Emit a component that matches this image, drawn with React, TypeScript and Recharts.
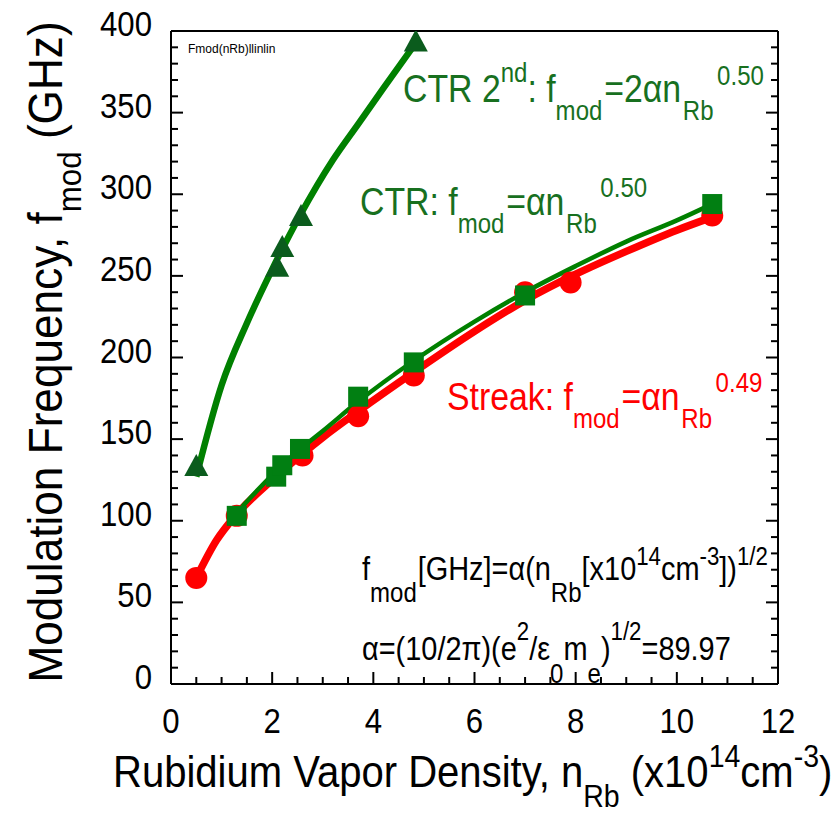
import React from "react";
import { ComposedChart, Line, Scatter, XAxis, YAxis } from "recharts";

// measured points (x10^14 cm^-3, GHz)
const streakN = [0.5, 1.3, 2.6, 3.7, 4.8, 7.0, 7.9, 10.7];
const streakF = [65, 103, 140, 164, 189, 240, 246, 287];

const ctrN = [1.3, 2.08, 2.2, 2.55, 3.7, 4.8, 7.0, 10.7];
const ctrF = [103, 127, 134, 144, 176, 197, 238, 294];

const ctr2N = [0.5, 2.1, 2.2, 2.57, 4.84];
const ctr2F = [133, 255, 267, 286, 393];

// fitted curves
const streakFitN = [0.5, 0.9, 1.3, 2.0, 2.6, 3.0, 3.7, 4.8, 6.0, 7.0, 8.0, 9.0, 10.0, 10.7];
const streakFitF = [65, 88, 104, 125, 141, 151, 167, 191, 216, 235, 251, 265, 278, 286];

const ctrFitN = [1.3, 2.0, 2.6, 3.0, 3.7, 4.8, 6.0, 7.0, 8.0, 9.0, 10.0, 10.7];
const ctrFitF = [105, 128, 145, 155, 173, 198, 222, 240, 256, 271, 284, 294];

const ctr2FitN = [0.5, 1.0, 1.5, 2.0, 2.55, 3.2, 3.7, 4.2, 4.8];
const ctr2FitF = [127, 183, 221, 254, 287, 321, 343, 365, 391];

const xTicks = Array.from({ length: 25 }, (_, i) => i * 0.5);
const yTicks = Array.from({ length: 41 }, (_, i) => i * 10);
const xLabels = [0, 2, 4, 6, 8, 10, 12];
const yLabels = [0, 50, 100, 150, 200, 250, 300, 350, 400];

const zip = (xs: number[], ys: number[]) => xs.map((x, i) => ({ x, y: ys[i] }));

const RED = "#ff0000";
const GREEN = "#008000";
const SQUARE = "#017f12";
const TRI = "#0b5c1d";
const GTEXT = "#18701f";
const FONT = "'Liberation Sans', Arial, sans-serif";
const SX = 0.89;

type Seg = [string, number, number?, number?];

function Rich({ x, y, segs, fill = "#000", rot = 0, anchor = "start", sx = SX }: any) {
  let cur = 0;
  return (
    <g transform={`translate(${x},${y}) rotate(${rot}) scale(${sx},1)`}>
      <text x={0} y={0} fill={fill} fontFamily={FONT} textAnchor={anchor} style={{ whiteSpace: "pre" }}>
        {(segs as Seg[]).map(([t, fs, off = 0, dx = 0], i) => {
          const dy = off - cur;
          cur = off;
          return (
            <tspan key={i} fontSize={fs} dy={dy} dx={dx}>
              {t}
            </tspan>
          );
        })}
      </text>
    </g>
  );
}

const isMajorX = (v: number) => xLabels.includes(v);
const isMajorY = (v: number) => yLabels.includes(v);

function BottomTick({ x, y, payload }: any) {
  const major = isMajorX(payload.value);
  return (
    <g>
      <line x1={x} x2={x} y1={y} y2={y - (major ? 12 : 7)} stroke="#000" strokeWidth={2} />
      {major && (
        <g transform={`translate(${x},${y + 49}) scale(${SX},1)`}>
          <text textAnchor="middle" fontFamily={FONT} fontSize={35} fill="#000">
            {payload.value}
          </text>
        </g>
      )}
    </g>
  );
}

function TopTick({ x, y, payload }: any) {
  const major = isMajorX(payload.value);
  return <line x1={x} x2={x} y1={y} y2={y + (major ? 12 : 7)} stroke="#000" strokeWidth={2} />;
}

function LeftTick({ x, y, payload }: any) {
  const major = isMajorY(payload.value);
  return (
    <g>
      <line x1={x} x2={x + (major ? 12 : 7)} y1={y} y2={y} stroke="#000" strokeWidth={2} />
      {major && (
        <g transform={`translate(${x - 19},${y + 5}) scale(${SX},1)`}>
          <text textAnchor="end" fontFamily={FONT} fontSize={35} fill="#000">
            {payload.value}
          </text>
        </g>
      )}
    </g>
  );
}

function RightTick({ x, y, payload }: any) {
  const major = isMajorY(payload.value);
  return <line x1={x} x2={x - (major ? 12 : 7)} y1={y} y2={y} stroke="#000" strokeWidth={2} />;
}

const circle = (p: any) => <circle cx={p.cx} cy={p.cy} r={11} fill={RED} />;
const square = (p: any) => <rect x={p.cx - 10} y={p.cy - 10} width={20} height={20} fill={SQUARE} />;
const triangle = (p: any) => (
  <polygon points={`${p.cx},${p.cy - 13} ${p.cx - 12},${p.cy + 9} ${p.cx + 12},${p.cy + 9}`} fill={TRI} />
);

const axisLine = { stroke: "#000", strokeWidth: 2 };

export default function App() {
  return (
    <div style={{ position: "fixed", left: 0, top: 0, width: 835, height: 814, background: "#fff" }}>
      <ComposedChart width={835} height={814} margin={{ top: 30, right: 56, bottom: 129, left: 170 }}>
        <XAxis
          xAxisId={0}
          type="number"
          dataKey="x"
          domain={[0, 12]}
          allowDataOverflow
          ticks={xTicks}
          interval={0}
          height={1}
          tickSize={0}
          tickMargin={0}
          tickLine={false}
          axisLine={axisLine}
          tick={(p: any) => <BottomTick {...p} />}
        />
        <XAxis
          xAxisId="top"
          orientation="top"
          type="number"
          domain={[0, 12]}
          allowDataOverflow
          ticks={xTicks}
          interval={0}
          height={1}
          tickSize={0}
          tickMargin={0}
          tickLine={false}
          axisLine={axisLine}
          tick={(p: any) => <TopTick {...p} />}
        />
        <YAxis
          yAxisId={0}
          type="number"
          dataKey="y"
          domain={[0, 400]}
          allowDataOverflow
          ticks={yTicks}
          interval={0}
          width={1}
          tickSize={0}
          tickMargin={0}
          tickLine={false}
          axisLine={axisLine}
          tick={(p: any) => <LeftTick {...p} />}
        />
        <YAxis
          yAxisId="right"
          orientation="right"
          type="number"
          domain={[0, 400]}
          allowDataOverflow
          ticks={yTicks}
          interval={0}
          width={1}
          tickSize={0}
          tickMargin={0}
          tickLine={false}
          axisLine={axisLine}
          tick={(p: any) => <RightTick {...p} />}
        />

        <Line
          data={zip(streakFitN, streakFitF)}
          dataKey="y"
          type="monotone"
          stroke={RED}
          strokeWidth={7.5}
          dot={false}
          isAnimationActive={false}
        />
        <Scatter data={zip(streakN, streakF)} dataKey="y" shape={circle} isAnimationActive={false} />
        <Line
          data={zip(ctrFitN, ctrFitF)}
          dataKey="y"
          type="monotone"
          stroke={GREEN}
          strokeWidth={4.5}
          dot={false}
          isAnimationActive={false}
        />
        <Scatter data={zip(ctrN, ctrF)} dataKey="y" shape={square} isAnimationActive={false} />
        <Line
          data={zip(ctr2FitN, ctr2FitF)}
          dataKey="y"
          type="monotone"
          stroke={GREEN}
          strokeWidth={6.5}
          dot={false}
          isAnimationActive={false}
        />
        <Scatter data={zip(ctr2N, ctr2F)} dataKey="y" shape={triangle} isAnimationActive={false} />
      </ComposedChart>

      <svg width={835} height={814} style={{ position: "absolute", left: 0, top: 0, pointerEvents: "none" }}>
        <Rich x={188} y={53} segs={[["Fmod(nRb)llinlin", 13.5]]} />
        <Rich
          x={403}
          y={102}
          fill={GTEXT}
          segs={[
            ["CTR 2", 38],
            ["nd", 27, -20],
            [": f", 38, 0],
            ["mod", 27, 18],
            ["=2αn", 38, 0, 2],
            ["Rb", 27, 18, 2],
            ["0.50", 27, -17, 4],
          ]}
        />
        <Rich
          x={360}
          y={215}
          fill={GTEXT}
          segs={[
            ["CTR: f", 38],
            ["mod", 27, 18],
            ["=αn", 38, 0, 2],
            ["Rb", 27, 18, 2],
            ["0.50", 27, -18, 4],
          ]}
        />
        <Rich
          x={447}
          y={410}
          fill={RED}
          segs={[
            ["Streak: f", 38],
            ["mod", 27, 18],
            ["=αn", 38, 0, 2],
            ["Rb", 27, 18, 2],
            ["0.49", 27, -18, 4],
          ]}
        />
        <Rich
          x={362}
          y={580}
          segs={[
            ["f", 32.5],
            ["mod", 27, 22],
            ["[GHz]=α(n", 32.5, 0, 1],
            ["Rb", 27, 22],
            ["[x10", 32.5, 0],
            ["14", 25, -15],
            ["cm", 32.5, 0],
            ["-3", 25, -15],
            ["])", 32.5, 0],
            ["1/2", 25, -15],
          ]}
        />
        <Rich
          x={362}
          y={660}
          segs={[
            ["α=(10/2π)(e", 32.5],
            ["2", 25, -20],
            ["/ε", 32.5, 0],
            ["0", 27, 23],
            ["m", 32.5, 0],
            ["e", 27, 23],
            [")", 32.5, 0],
            ["1/2", 25, -20],
            ["=89.97", 32.5, 0],
          ]}
        />
        <Rich
          x={113}
          y={787}
          segs={[
            ["Rubidium Vapor Density, n", 45],
            ["Rb", 32, 20],
            [" (x10", 45, 0],
            ["14", 32, -20],
            ["cm", 45, 0],
            ["-3", 32, -20],
            [")", 45, 0],
          ]}
        />
        <Rich
          x={62}
          y={352}
          rot={-90}
          anchor="middle"
          sx={0.92}
          segs={[
            ["Modulation Frequency, f", 48],
            ["mod", 34, 19],
            [" (GHz)", 48, 0],
          ]}
        />
      </svg>
    </div>
  );
}
